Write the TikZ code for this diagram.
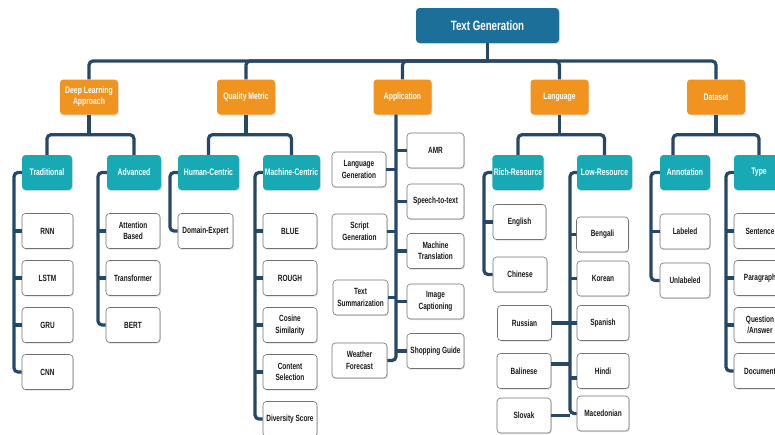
\documentclass[tikz,border=0pt]{standalone}
\usepackage{fontspec}
\setmainfont{Liberation Sans}[BoldFont={Liberation Sans Bold},FakeStretch=0.72]
\usetikzlibrary{shadows}
\definecolor{rootblue}{HTML}{1B6F99}
\definecolor{catorange}{HTML}{F0931F}
\definecolor{subteal}{HTML}{17A9B4}
\definecolor{linenavy}{HTML}{264765}
\tikzset{
 box/.style={rounded corners=3.5pt,minimum height=35pt,inner sep=1.5pt,align=center,font=\bfseries\fontsize{9.5}{11}\selectfont,drop shadow={shadow xshift=.8pt,shadow yshift=-1.2pt,opacity=.25}},
 rootbox/.style={box,fill=rootblue,text=white,minimum width=143pt,font=\bfseries\fontsize{13.5}{15}\selectfont},
 catbox/.style={box,fill=catorange,text=white,minimum width=58pt},
 subbox/.style={box,fill=subteal,text=white},
 leaf/.style={box,draw=black!55,line width=.6pt,fill=white,text=black!90,font=\bfseries\fontsize{9}{11.5}\selectfont},
 link/.style={draw=linenavy,line width=3.2pt,rounded corners=4pt}
}
\begin{document}
\begin{tikzpicture}[x=1pt,y=-1pt]
\fill[white] (0,0) rectangle (775,434);\clip (0,0) rectangle (775,434);
% boxes
\node[rootbox] (root) at (487.5,25.5) {Text Generation};
\foreach \n/\x/\t in {dl/89/{Deep Learning\\Approach},qm/246/Quality Metric,app/402.5/Application,lang/559.5/Language,ds/716/Dataset}
  \node[catbox] (\n) at (\x,97) {\t};
\foreach \n/\x/\w/\t in {trad/47/50/Traditional,adv/134/54/Advanced,hum/208.5/61/Human-Centric,mc/291.5/57/Machine-Centric,rich/518/50/Rich-Resource,low/604.5/55/Low-Resource,ann/685/50/Annotation,typ/759/50/Type}
  \node[subbox,minimum width=\w pt] (\n) at (\x,172.5) {\t};
\foreach \n/\x/\y/\w/\t in {rnn/47.5/231/51/RNN,lstm/47.5/278/51/LSTM,gru/47.5/325/51/GRU,cnn/47.5/372/51/CNN,
  att/133/231/54/{Attention\\Based},tra/133/278/54/Transformer,bert/133/325/54/BERT,dom/205.5/231/55/Domain-Expert,
  blue/290/231/54/BLUE,rough/290/278/54/ROUGH,cos/290/325/54/{Cosine\\Similarity},con/290/372/54/{Content\\Selection},div/290/419/54/Diversity Score,
  lg/359/169.5/54/{Language\\Generation},sg/359.5/231.5/55/{Script\\Generation},ts/360.5/297.5/55/{Text\\Summarization},wf/359.5/360.5/55/{Weather\\Forecast},
  amr/435.5/150.5/57/AMR,stt/435.5/201.5/57/Speech-to-text,mt/435.5/251/57/{Machine\\Translation},ic/435.5/301.5/57/{Image\\Captioning},sgd/435.5/351/57/Shopping Guide,
  eng/519.5/222/53/English,chi/520/274.5/54/Chinese,
  ben/602.5/234.5/52/Bengali,kor/603/278.5/52/Korean,spa/603/323/52/Spanish,hin/603/371/52/Hindi,macd/603/413.5/52/Macedonian,
  rus/524.5/323/54/Russian,bal/524/371/54/Balinese,slo/524/415.5/54/Slovak,
  lab/685/231.5/50/Labeled,unl/685/280.5/50/Unlabeled,
  sen/760/231/52/Sentence,par/760/278/52/Paragraph,qa/760/325/52/{Question\\/Answer},doc/760/371/52/Document}
  \node[leaf,minimum width=\w pt] (\n) at (\x,\y) {\t};
% links
\coordinate (bus) at (487.5,61);
\draw[link] (root) -- (bus);
\foreach \n in {dl,qm,app,lang,ds}\draw[link] (\n.north) |- (bus);
\foreach \p/\a/\b/\o in {dl/trad/adv/0,qm/hum/mc/0,lang/rich/low/0,ds/ann/typ/-12}{
  \coordinate (j\p) at ([yshift=-20pt]\p.south);
  \draw[link] (\p) -- (j\p);\draw[link] ([xshift=\o pt]\a.north) |- (j\p);\draw[link] (\b.north) |- (j\p);}
\foreach \s/\r/\e in {trad/14/cnn,adv/98/bert,hum/170/dom,mc/255/div,rich/484/chi,low/570/macd,ann/651/unl,typ/726/doc}{
  \coordinate (r\s) at (\r,0);
  \draw[link] (\s.west) -| (r\s |- \e.west) -- (\e.west);}
\foreach \c/\s in {rnn/trad,lstm/trad,gru/trad,att/adv,tra/adv,blue/mc,rough/mc,cos/mc,con/mc,eng/rich,ben/low,kor/low,spa/low,lab/ann,sen/typ,par/typ,qa/typ}
  \draw[link] (\c.west) -- (\c.west -| r\s);
\draw[link] ([yshift=-7pt]hin.west) -- ([yshift=-7pt]hin.west -| rlow);
\draw[link] (rus.east) -- (rus.east -| rlow);\draw[link] ([yshift=7pt]bal.east) -- ([yshift=7pt]bal.east -| rlow);\draw[link] (slo.east) -- (slo.east -| rlow);
\coordinate (rapp) at (396,0);
\draw[link] (rapp |- app.south) -- (rapp |- wf.east) -- (wf.east);
\foreach \c in {lg,sg,ts}\draw[link] (\c.east) -- (\c.east -| rapp);
\foreach \c in {amr,stt,mt,ic,sgd}\draw[link] (\c.west) -- (\c.west -| rapp);
\end{tikzpicture}
\end{document}
